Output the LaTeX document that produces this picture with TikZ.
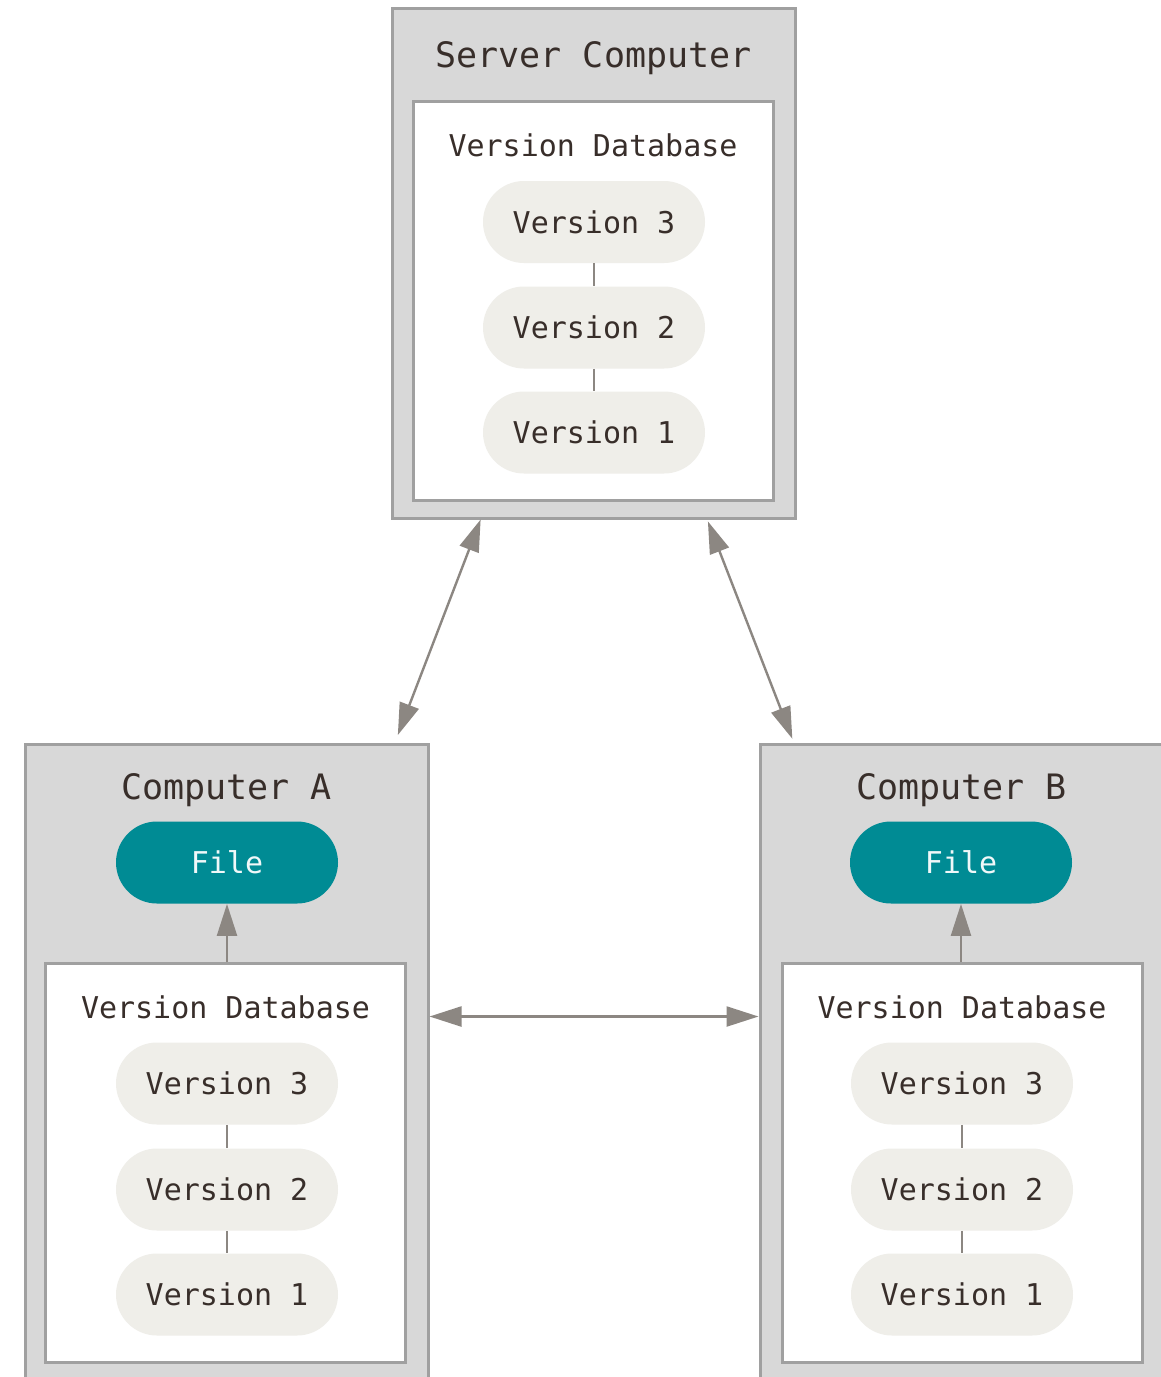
\documentclass[tikz,border=0pt]{standalone}
\usepackage{fontspec}
\setmonofont{DejaVu Sans Mono}
\usepackage{tikz}
\usetikzlibrary{arrows.meta}
\usetikzlibrary{calc}
\definecolor{mgray}{RGB}{216, 216, 216}
\definecolor{mborder}{RGB}{160, 160, 160}
\definecolor{mpill}{RGB}{239, 238, 233}
\definecolor{mteal}{RGB}{0, 139, 148}
\definecolor{mtext}{RGB}{56, 46, 42}
\definecolor{marrow}{RGB}{140, 135, 130}
\tikzset{
  machine/.style = {draw = mborder, fill = mgray, line width = 1.5pt, minimum width = 201.5pt},
  database/.style = {draw = mborder, fill = white, line width = 1.5pt, minimum width = 180pt, minimum height = 199.5pt},
  title/.style = {text = mtext, font = \ttfamily\fontsize{17.5}{20}\selectfont, text height = 0.75em, text depth = 0.22em},
  dbtitle/.style = {text = mtext, font = \ttfamily\fontsize{15}{18}\selectfont, text height = 0.75em, text depth = 0.22em},
  version/.style = {fill = mpill, rounded corners = 20.5pt, minimum width = 111pt, minimum height = 41pt,
    text = mtext, font = \ttfamily\fontsize{15}{18}\selectfont},
  file/.style = {fill = mteal, rounded corners = 20.5pt, minimum width = 111pt, minimum height = 41pt,
    text = white!94!mteal, font = \ttfamily\fontsize{15}{18}\selectfont},
  link/.style = {draw = marrow, line width = 1.2pt, {Triangle[length = 16pt, width = 10pt]}-{Triangle[length = 16pt, width = 10pt]}},
  uplink/.style = {draw = marrow, line width = 1.2pt, -{Triangle[length = 16pt, width = 10pt]}},
  chain/.style = {draw = marrow, line width = 1pt}
}

\begin{document}
\begin{tikzpicture}[x = 0.5pt, y = -0.5pt]
    \clip (0, 0) rectangle (1161, 1377);

    \node [machine, minimum height = 255pt] (server) at (593.5, 263) {};
    \node [title] (serverlabel) at (593.5, 62) {Server Computer};
    \node [database] (serverdb) at (593, 300.5) {};
    \node [dbtitle] (serverdblabel) at (593, 151) {Version Database};
    \node [version] (sv3) at (594, 222) {Version 3};
    \node [version] (sv2) at (594, 327.5) {Version 2};
    \node [version] (sv1) at (594, 432.5) {Version 1};
    \draw [chain] (sv3.south) -- (sv2.north);
    \draw [chain] (sv2.south) -- (sv1.north);

    \node [machine, minimum height = 338pt] (compA) at (226.5, 1082) {};
    \node [title] (compAlabel) at (226.5, 794) {Computer A};
    \node [file] (fileA) at (227, 862.5) {File};
    \node [database] (dbA) at (225.5, 1162.5) {};
    \node [dbtitle] (dbAlabel) at (225.5, 1013) {Version Database};
    \node [version] (av3) at (227, 1083.5) {Version 3};
    \node [version] (av2) at (227, 1189.5) {Version 2};
    \node [version] (av1) at (227, 1294.5) {Version 1};
    \draw [chain] (av3.south) -- (av2.north);
    \draw [chain] (av2.south) -- (av1.north);
    \draw [uplink] (dbA.north -| fileA.south) -- (fileA.south);

    \node [machine, minimum height = 338pt, minimum width = 206pt] (compB) at (966, 1082) {};
    \node [title] (compBlabel) at (961.5, 794) {Computer B};
    \node [file] (fileB) at (961, 862.5) {File};
    \node [database] (dbB) at (962, 1162.5) {};
    \node [dbtitle] (dbBlabel) at (962, 1013) {Version Database};
    \node [version] (bv3) at (962, 1083.5) {Version 3};
    \node [version] (bv2) at (962, 1189.5) {Version 2};
    \node [version] (bv1) at (962, 1294.5) {Version 1};
    \draw [chain] (bv3.south) -- (bv2.north);
    \draw [chain] (bv2.south) -- (bv1.north);
    \draw [uplink] (dbB.north -| fileB.south) -- (fileB.south);

    \draw [link, shorten > = 4pt] ($(server.south west)!0.222!(server.south east)$) -- ($(compA.north west)!0.915!(compA.north east)$);
    \draw [link, shorten > = 2pt, shorten < = 1pt] ($(server.south west)!0.78!(server.south east)$) -- ($(compB.north west)!0.085!(compB.north east)$);
    \draw [link] ($(compA.north east) + (0, 274)$) -- ($(compB.north west) + (0, 274)$);
  \end{tikzpicture}
\end{document}
